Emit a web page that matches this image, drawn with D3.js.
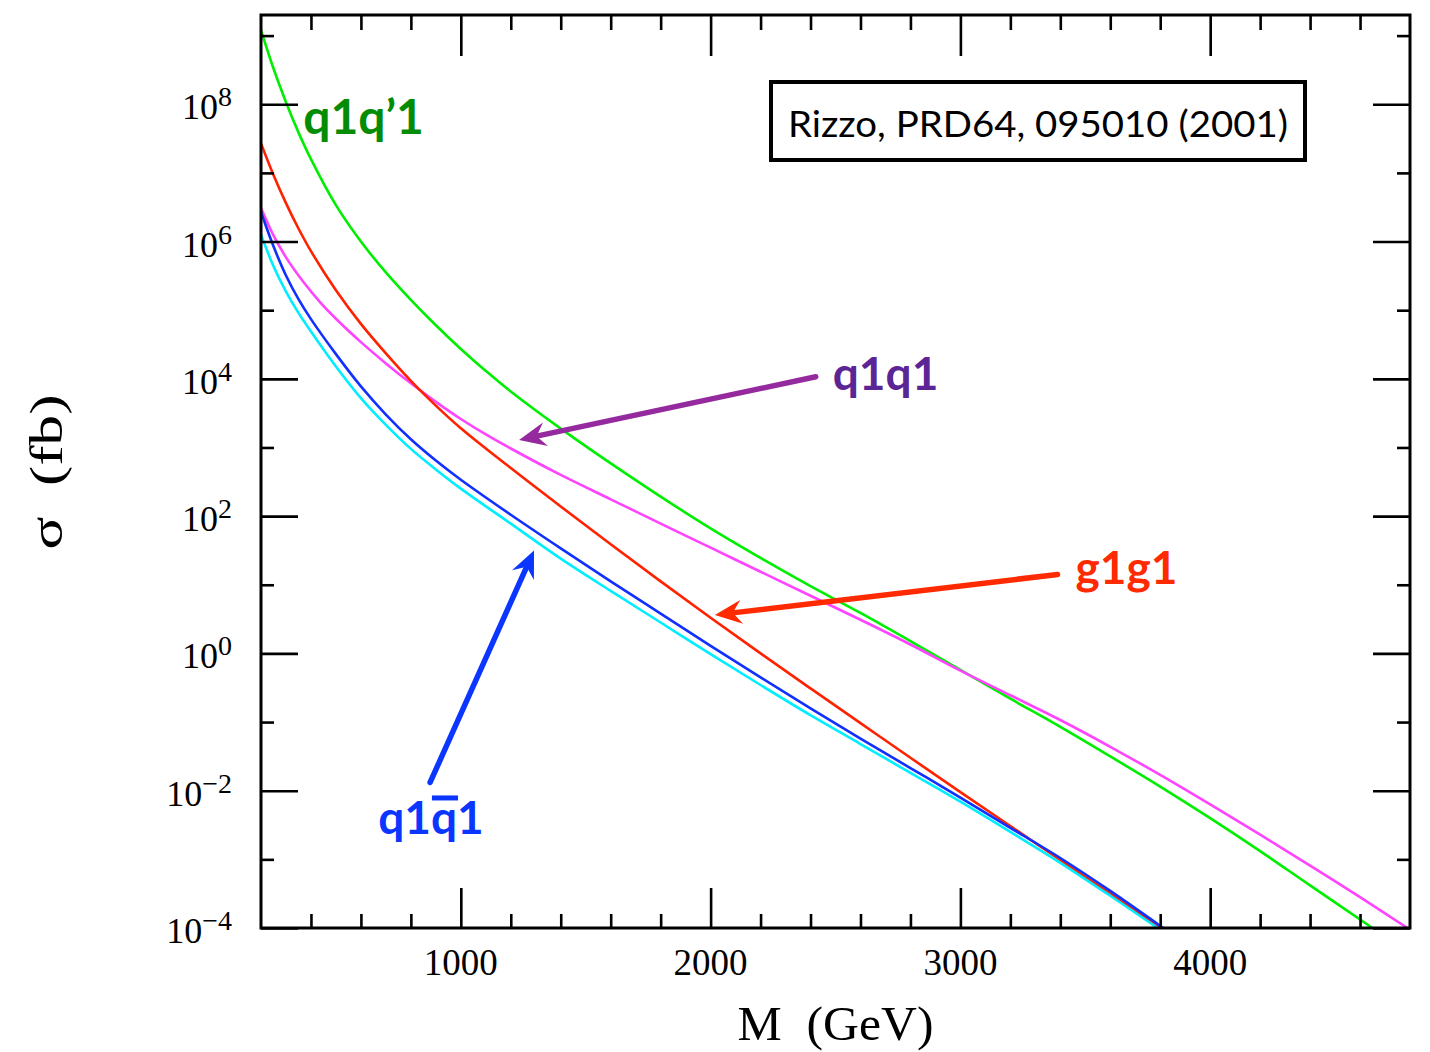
<!DOCTYPE html>
<html>
<head>
<meta charset="utf-8">
<script src="https://cdn.jsdelivr.net/npm/d3@7/dist/d3.min.js"></script>
<style>
  html, body { margin: 0; padding: 0; background: #fff; }
  svg { display: block; }
</style>
</head>
<body>
<svg id="chart" width="1430" height="1052"></svg>
<script>
// ---------------- DATA (M in GeV, values are log10(sigma / fb)) ----------------
const massGreen   = [200,250,300,350,400,500,600,700,800,900,1000,1100,1200,1400,1700,2000,2200,2400,2600,2800,3000,3200,3400,3600,3800,4000,4200,4400,4650];
const logQ1Qp1    = [9.08,8.52,8.03,7.59,7.20,6.53,6.00,5.55,5.15,4.78,4.435,4.115,3.815,3.275,2.525,1.82,1.39,0.98,0.59,0.18,-0.24,-0.66,-1.07,-1.50,-1.94,-2.40,-2.88,-3.38,-4.0];

const massMagenta = [200,250,300,370,437,500,600,700,800,900,1000,1100,1200,1400,1600,1800,2000,2200,2400,2600,2800,3000,3200,3400,3600,3800,4000,4200,4400,4600,4790];
const logQ1Q1     = [6.49,6.09,5.77,5.41,5.115,4.875,4.535,4.225,3.935,3.665,3.415,3.19,2.985,2.60,2.245,1.89,1.54,1.19,0.84,0.49,0.13,-0.25,-0.61,-0.97,-1.36,-1.77,-2.20,-2.64,-3.09,-3.55,-4.0];

const massRed     = [200,250,300,350,400,500,600,700,800,900,1000,1200,1400,1600,1800,2000,2200,2400,2600,2800,3000,3200,3400,3600,3805];
const logG1G1     = [7.43,6.97,6.56,6.19,5.86,5.29,4.80,4.37,3.97,3.61,3.28,2.70,2.14,1.59,1.05,0.52,0.00,-0.51,-1.015,-1.52,-2.02,-2.515,-3.01,-3.50,-4.0];

const massBlue    = [200,250,300,350,400,500,600,700,800,900,1000,1200,1400,1600,1800,2000,2200,2400,2600,2800,3000,3200,3400,3600,3812];
const logQ1Q1bar  = [6.43,5.93,5.505,5.16,4.87,4.36,3.89,3.48,3.12,2.81,2.53,2.02,1.53,1.05,0.58,0.11,-0.35,-0.80,-1.24,-1.67,-2.10,-2.54,-2.98,-3.46,-4.0];

const massCyan    = [200,250,300,350,400,500,600,700,800,900,1000,1200,1400,1600,1800,2000,2200,2400,2600,2800,3000,3200,3400,3600,3790];
const logCyan     = [6.10,5.64,5.27,4.96,4.69,4.18,3.72,3.33,2.98,2.68,2.40,1.89,1.38,0.91,0.45,-0.01,-0.46,-0.90,-1.32,-1.74,-2.16,-2.60,-3.05,-3.53,-4.0];

const xMajorTicks = [1000, 2000, 3000, 4000];
const xTickLabels = ["1000", "2000", "3000", "4000"];
const xMinorTicks = [400,600,800,1200,1400,1600,1800,2200,2400,2600,2800,3200,3400,3600,3800,4200,4400,4600];
const yMajorExp   = [-4, -2, 0, 2, 4, 6, 8];
const yMinorExp   = [-3, -1, 1, 3, 5, 7, 9];

const citation = "Rizzo, PRD64, 095010 (2001)";

// annotation labels: text, M, log10 sigma at baseline
const labelQ1Qp1 = { text: "q1q’1", m: 369, v: 7.57 };
const labelQ1Q1  = { text: "q1q1",  m: 2489, v: 3.84 };
const labelG1G1  = { text: "g1g1",  m: 3461, v: 1.01 };
const labelQ1Qb1 = { text: "q1q1",  m: 669,  v: -2.63 };

// arrows: tail -> tip, in (M, log10 sigma)
const arrowQ1Q1  = { from: [2421, 4.03], to: [1233, 3.11] };
const arrowG1G1  = { from: [3389, 1.15], to: [2017, 0.56] };
const arrowQ1Qb1 = { from: [877, -1.88], to: [1293, 1.50] };

// ---------------- DRAWING ----------------
const svg = d3.select("#chart");
const L = 261, R = 1410, T = 15, B = 928;

const x = d3.scaleLinear().domain([200, 4800]).range([L, R]);
const y = d3.scaleLog().domain([1e-4, Math.pow(10, 9.3)]).range([B, T]);

const defs = svg.append("defs");
defs.append("clipPath").attr("id", "plotclip")
  .append("rect").attr("x", L).attr("y", T).attr("width", R - L).attr("height", B - T);

// curves
const series = [
  { m: massGreen,   v: logQ1Qp1,   color: "#00ee00" },
  { m: massMagenta, v: logQ1Q1,    color: "#ff44ff" },
  { m: massRed,     v: logG1G1,    color: "#ff2200" },
  { m: massCyan,    v: logCyan,    color: "#00eeff" },
  { m: massBlue,    v: logQ1Q1bar, color: "#1030ff" }
];
const line = d3.line()
  .x(d => x(d[0]))
  .y(d => y(Math.pow(10, d[1])))
  .curve(d3.curveCatmullRom.alpha(0.5));

const gCurves = svg.append("g").attr("clip-path", "url(#plotclip)");
series.forEach(s => {
  gCurves.append("path")
    .datum(s.m.map((mm, i) => [mm, s.v[i]]))
    .attr("d", line)
    .attr("fill", "none")
    .attr("stroke", s.color)
    .attr("stroke-width", 2.6);
});

// axes with d3 axis generators (ticks only, labels drawn separately)
const tickW = 2.6;
function styleAxis(g) {
  g.select(".domain").remove();
  g.selectAll(".tick line").attr("stroke", "#000").attr("stroke-width", tickW);
  g.selectAll(".tick text").remove();
}
svg.append("g").attr("transform", `translate(0,${B})`)
  .call(d3.axisTop(x).tickValues(xMajorTicks).tickSize(40)).call(styleAxis);
svg.append("g").attr("transform", `translate(0,${B})`)
  .call(d3.axisTop(x).tickValues(xMinorTicks).tickSize(14)).call(styleAxis);
svg.append("g").attr("transform", `translate(0,${T})`)
  .call(d3.axisBottom(x).tickValues(xMajorTicks).tickSize(41)).call(styleAxis);
svg.append("g").attr("transform", `translate(0,${T})`)
  .call(d3.axisBottom(x).tickValues(xMinorTicks).tickSize(15)).call(styleAxis);
const yMaj = yMajorExp.map(e => Math.pow(10, e));
const yMin = yMinorExp.map(e => Math.pow(10, e));
svg.append("g").attr("transform", `translate(${L},0)`)
  .call(d3.axisRight(y).tickValues(yMaj).tickSize(37)).call(styleAxis);
svg.append("g").attr("transform", `translate(${L},0)`)
  .call(d3.axisRight(y).tickValues(yMin).tickSize(13)).call(styleAxis);
svg.append("g").attr("transform", `translate(${R},0)`)
  .call(d3.axisLeft(y).tickValues(yMaj).tickSize(37)).call(styleAxis);
svg.append("g").attr("transform", `translate(${R},0)`)
  .call(d3.axisLeft(y).tickValues(yMin).tickSize(13)).call(styleAxis);

// frame
svg.append("rect").attr("x", L).attr("y", T).attr("width", R - L).attr("height", B - T)
  .attr("fill", "none").attr("stroke", "#000").attr("stroke-width", 3);

// x tick labels
const serif = "'Liberation Serif', 'DejaVu Serif', serif";
svg.append("g").selectAll("text").data(xMajorTicks).join("text")
  .attr("x", d => x(d)).attr("y", 975)
  .attr("text-anchor", "middle")
  .attr("font-family", serif).attr("font-size", 37)
  .text((d, i) => xTickLabels[i]);

// y tick labels: 10^e
const yl = svg.append("g").selectAll("text").data(yMajorExp).join("text")
  .attr("x", 232).attr("y", d => y(Math.pow(10, d)) + 15)
  .attr("text-anchor", "end")
  .attr("font-family", serif).attr("font-size", 36);
yl.append("tspan").text("10");
yl.append("tspan").attr("dy", -13).attr("font-size", 28)
  .text(d => d < 0 ? "\u2212" + Math.abs(d) : String(d));

// axis titles
svg.append("text").attr("x", (L + R) / 2).attr("y", 1040)
  .attr("text-anchor", "middle")
  .attr("font-family", serif).attr("font-size", 48)
  .attr("xml:space", "preserve").style("white-space", "pre")
  .attr("textLength", 196).attr("lengthAdjust", "spacingAndGlyphs")
  .text("M  (GeV)");
svg.append("text")
  .attr("transform", "translate(62,472) rotate(-90)")
  .attr("text-anchor", "middle")
  .attr("font-family", serif).attr("font-size", 46)
  .attr("xml:space", "preserve").style("white-space", "pre")
  .attr("textLength", 155).attr("lengthAdjust", "spacingAndGlyphs")
  .text("\u03C3  (fb)");

// citation box
svg.append("rect").attr("x", 771).attr("y", 82).attr("width", 534).attr("height", 78)
  .attr("fill", "#fff").attr("stroke", "#000").attr("stroke-width", 4);
svg.append("text").attr("x", 788).attr("y", 137)
  .attr("font-family", "Lato, 'Open Sans', sans-serif").attr("font-size", 37)
  .attr("textLength", 500).attr("lengthAdjust", "spacingAndGlyphs")
  .text(citation);

// arrows
function arrow(a, color) {
  const x0 = x(a.from[0]), y0 = y(Math.pow(10, a.from[1]));
  const x1 = x(a.to[0]),   y1 = y(Math.pow(10, a.to[1]));
  const ang = Math.atan2(y1 - y0, x1 - x0);
  const len = 27, half = 12, notch = 18;
  const ux = Math.cos(ang), uy = Math.sin(ang);
  const px = -uy, py = ux;
  const bx = x1 - ux * len, by = y1 - uy * len;
  const nx = x1 - ux * notch, ny = y1 - uy * notch;
  svg.append("line")
    .attr("x1", x0).attr("y1", y0).attr("x2", nx).attr("y2", ny)
    .attr("stroke", color).attr("stroke-width", 5.5).attr("stroke-linecap", "round");
  svg.append("path")
    .attr("d", `M${x1},${y1} L${bx + px * half},${by + py * half} L${nx},${ny} L${bx - px * half},${by - py * half} Z`)
    .attr("fill", color);
}
arrow(arrowQ1Q1, "#952a9e");
arrow(arrowG1G1, "#ff2a00");
arrow(arrowQ1Qb1, "#0a36ff");

// curve labels
const labFont = "Lato, 'Open Sans', sans-serif";
function label(l, color, size) {
  return svg.append("text")
    .attr("x", x(l.m)).attr("y", y(Math.pow(10, l.v)))
    .attr("font-family", labFont).attr("font-weight", "bold")
    .attr("font-size", size).attr("fill", color)
    .text(l.text);
}
label(labelQ1Qp1, "#058c05", 48);
label(labelQ1Q1, "#5b2596", 46);
label(labelG1G1, "#ff2a00", 46);
const qb = label(labelQ1Qb1, "#0a36ff", 46);
// overline over the anti-quark
const ext = qb.node().getExtentOfChar(2);
const base = y(Math.pow(10, labelQ1Qb1.v));
svg.append("line")
  .attr("x1", ext.x + 1).attr("x2", ext.x + ext.width + 1)
  .attr("y1", base - 36).attr("y2", base - 36)
  .attr("stroke", "#0a36ff").attr("stroke-width", 5);
</script>
</body>
</html>
